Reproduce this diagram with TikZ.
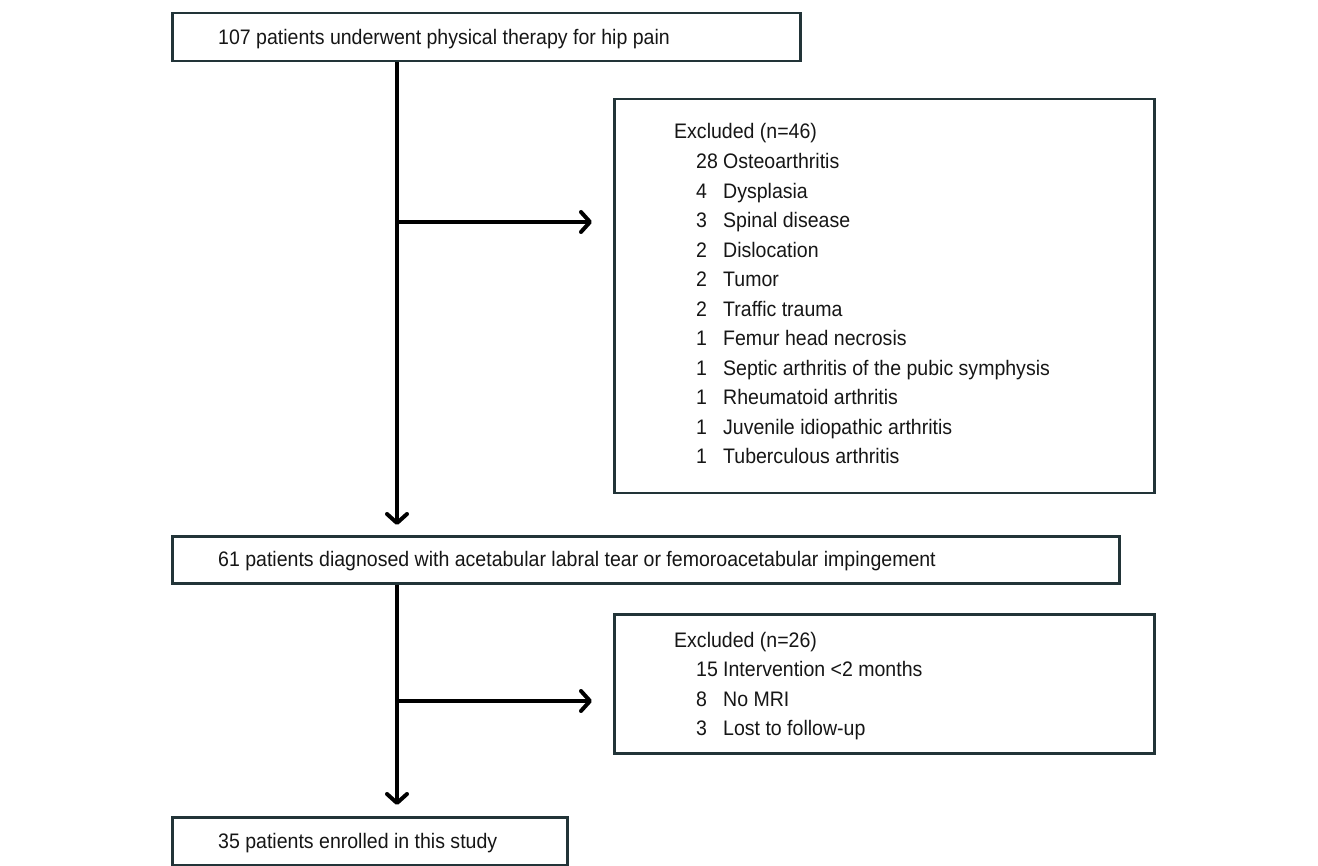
\documentclass[tikz,border=0pt]{standalone}
\usepackage{fontspec}
\setmainfont[FakeStretch=0.93]{Liberation Sans}
\usetikzlibrary{arrows.meta}
\definecolor{boxline}{RGB}{34,52,56}
\definecolor{ink}{RGB}{22,22,22}
\begin{document}
\begin{tikzpicture}[x=1pt,y=-1pt,
  font=\fontsize{21pt}{25pt}\selectfont,
  box/.style={draw=boxline,line width=2.5pt,anchor=north west,inner sep=0pt,fill=white},
  txt/.style={anchor=base west,inner sep=0pt,text=ink},
  flow/.style={line width=4pt,draw=black,-{Straight Barb[length=9pt,width=20pt,line cap=round,line join=round]}}]
\useasboundingbox[fill=white] (0,0) rectangle (1318,866);
% boxes
\node[box,minimum width=628pt,minimum height=48pt] (top) at (171,12) {};
\node[box,minimum width=540pt,minimum height=394pt] (ex1) at (613,98) {};
\node[box,minimum width=947pt,minimum height=47pt] (mid) at (171,535) {};
\node[box,minimum width=540pt,minimum height=139pt] (ex2) at (613,613) {};
\node[box,minimum width=395pt,minimum height=48pt] (bot) at (171,816) {};
% main texts
\node[txt] (toptxt) at (218,45) {107 patients underwent physical therapy for hip pain};
\node[txt] (midtxt) at (218,566) {61 patients diagnosed with acetabular labral tear or femoroacetabular impingement};
\node[txt] (bottxt) at (218,848) {35 patients enrolled in this study};
% excluded 1
\node[txt] (e1h) at (674,139) {Excluded (n=46)};
\foreach \n/\lab [count=\i from 0] in {28/Osteoarthritis,4/Dysplasia,3/Spinal disease,2/Dislocation,2/Tumor,2/Traffic trauma,1/Femur head necrosis,1/Septic arthritis of the pubic symphysis,1/Rheumatoid arthritis,1/Juvenile idiopathic arthritis,1/Tuberculous arthritis}{
  \node[txt] (e1n\i) at (696,169+29.5*\i) {\n};
  \node[txt] (e1l\i) at (723,169+29.5*\i) {\lab};
}
% excluded 2
\node[txt] (e2h) at (674,647) {Excluded (n=26)};
\foreach \n/\lab [count=\i from 0] in {15/Intervention <2 months,8/No MRI,3/Lost to follow-up}{
  \node[txt] (e2n\i) at (696,676.5+29.5*\i) {\n};
  \node[txt] (e2l\i) at (723,676.5+29.5*\i) {\lab};
}
% connectors
\coordinate (j1) at (397,222);
\coordinate (j2) at (397,701);
\draw[flow,shorten >=10pt] (top.south -| j1) -- (mid.north -| j1);
\draw[flow,shorten >=21pt] (j1) -- (j1 -| ex1.west);
\draw[flow,shorten >=11pt] (mid.south -| j2) -- (bot.north -| j2);
\draw[flow,shorten >=21pt] (j2) -- (j2 -| ex2.west);
\end{tikzpicture}
\end{document}
